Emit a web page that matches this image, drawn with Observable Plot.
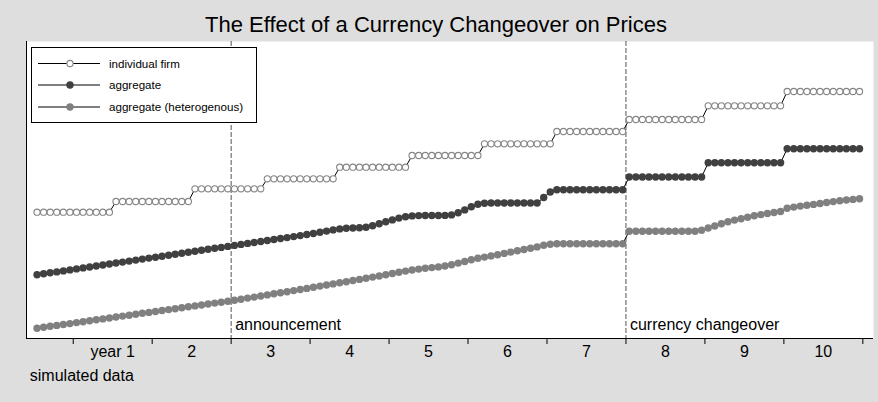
<!DOCTYPE html>
<html>
<head>
<meta charset="utf-8">
<script src="https://cdn.jsdelivr.net/npm/d3@7"></script>
<script src="https://cdn.jsdelivr.net/npm/@observablehq/plot@0.6"></script>
<style>
  html, body { margin: 0; padding: 0; background: #dedede; }
  #wrap { position: relative; width: 878px; height: 402px; overflow: hidden; background: #dedede;
          font-family: "Liberation Sans", Arial, sans-serif; }
  #wrap svg.legend { position: absolute; left: 31px; top: 47px; }
</style>
</head>
<body>
<div id="wrap"></div>
<script>
// ---------- data (monthly, simulated) ----------
const titleText = "The Effect of a Currency Changeover on Prices";
const captionText = "simulated data";
const seriesNames = ["individual firm", "aggregate", "aggregate (heterogenous)"];

const individualFirm = [
  12.63,12.63,12.63,12.63,12.63,12.63,12.63,12.63,12.63,12.63,12.63,12.63,
  13.70,13.70,13.70,13.70,13.70,13.70,13.70,13.70,13.70,13.70,13.70,13.70,
  14.97,14.97,14.97,14.97,14.97,14.97,14.97,14.97,14.97,14.97,14.97,
  15.97,15.97,15.97,15.97,15.97,15.97,15.97,15.97,15.97,15.97,15.97,
  17.13,17.13,17.13,17.13,17.13,17.13,17.13,17.13,17.13,17.13,17.13,
  18.30,18.30,18.30,18.30,18.30,18.30,18.30,18.30,18.30,18.30,18.30,
  19.47,19.47,19.47,19.47,19.47,19.47,19.47,19.47,19.47,19.47,19.47,
  20.70,20.70,20.70,20.70,20.70,20.70,20.70,20.70,20.70,20.70,20.70,
  21.90,21.90,21.90,21.90,21.90,21.90,21.90,21.90,21.90,21.90,21.90,21.90,
  23.27,23.27,23.27,23.27,23.27,23.27,23.27,23.27,23.27,23.27,23.27,23.27,
  24.70,24.70,24.70,24.70,24.70,24.70,24.70,24.70,24.70,24.70,24.70,24.70
];

const aggregate = [
  6.37,6.47,6.57,6.66,6.76,6.86,6.96,7.06,7.15,7.25,
  7.35,7.45,7.55,7.64,7.74,7.84,7.94,8.04,8.13,8.23,
  8.33,8.43,8.53,8.62,8.72,8.82,8.92,9.02,9.11,9.21,
  9.31,9.41,9.51,9.60,9.70,9.80,9.90,10.00,10.09,10.19,
  10.29,10.40,10.50,10.62,10.74,10.86,10.96,11.02,11.05,11.07,
  11.12,11.28,11.47,11.67,11.86,12.04,12.18,12.26,12.29,12.30,
  12.30,12.30,12.31,12.36,12.57,12.86,13.17,13.42,13.52,13.55,
  13.55,13.55,13.55,13.55,13.55,13.55,13.55,14.10,14.65,14.87,
  14.87,14.87,14.87,14.87,14.87,14.87,14.87,14.87,14.87,14.87,
  16.15,16.15,16.15,16.15,16.15,16.15,16.15,16.15,16.15,16.15,
  16.15,16.15,17.57,17.57,17.57,17.57,17.57,17.57,17.57,17.57,
  17.57,17.57,17.57,17.57,18.97,18.97,18.97,18.97,18.97,18.97,
  18.97,18.97,18.97,18.97,18.97,18.97
];

const aggregateHet = [
  1.03,1.12,1.22,1.31,1.40,1.49,1.59,1.68,1.77,1.87,
  1.96,2.05,2.15,2.24,2.33,2.42,2.52,2.61,2.70,2.80,
  2.89,2.98,3.08,3.17,3.26,3.35,3.45,3.54,3.63,3.73,
  3.82,3.93,4.04,4.14,4.25,4.36,4.47,4.58,4.68,4.79,
  4.90,5.01,5.12,5.24,5.35,5.46,5.57,5.68,5.80,5.91,
  6.02,6.14,6.25,6.38,6.50,6.62,6.74,6.85,6.94,7.02,
  7.09,7.16,7.25,7.38,7.54,7.70,7.87,8.02,8.14,8.26,
  8.38,8.51,8.64,8.77,8.90,9.03,9.16,9.32,9.43,9.47,
  9.47,9.47,9.47,9.47,9.47,9.47,9.47,9.47,9.47,9.47,
  10.73,10.73,10.73,10.73,10.73,10.73,10.73,10.73,10.73,10.73,
  10.73,10.82,11.05,11.25,11.47,11.67,11.84,11.98,12.13,12.27,
  12.39,12.50,12.60,12.70,13.02,13.14,13.24,13.32,13.41,13.50,
  13.60,13.69,13.78,13.85,13.91,13.97
];

const yearTicks = [5.5, 17.5, 29.5, 41.5, 53.5, 65.5, 77.5, 89.5, 101.5, 113.5, 125.5];
const yearLabelPos = [11.5, 23.5, 35.5, 47.5, 59.5, 71.5, 83.5, 95.5, 107.5, 119.5];
const yearLabels = ["year 1", "2", "3", "4", "5", "6", "7", "8", "9", "10"];
const events = [
  {month: 29.5, label: "announcement"},
  {month: 89.5, label: "currency changeover"}
];

const xDomain = [-1.6, 127.12];
const yDomain = [0, 29.7];

// ---------- styles ----------
const styles = [
  {fill: "white", stroke: "#858585", r: 3.1, strokeWidth: 1.1},
  {fill: "#404040", stroke: "none", r: 3.7, strokeWidth: 0},
  {fill: "#808080", stroke: "none", r: 3.7, strokeWidth: 0}
];

const months = d3.range(individualFirm.length);
const toRows = vals => months.map((m, i) => ({month: m, value: vals[i]}));
const seriesData = [individualFirm, aggregate, aggregateHet].map(toRows);

const seriesMarks = seriesData.flatMap((rows, k) => [
  Plot.line(rows, {x: "month", y: "value", stroke: "black", strokeWidth: 1}),
  Plot.dot(rows, {x: "month", y: "value", r: styles[k].r, fill: styles[k].fill,
                  stroke: styles[k].stroke, strokeWidth: styles[k].strokeWidth})
]);

const chart = Plot.plot({
  width: 878,
  height: 402,
  marginTop: 41,
  marginRight: 5,
  marginBottom: 64,
  marginLeft: 26,
  style: {background: "transparent", fontFamily: "'Liberation Sans', Arial, sans-serif",
          fontSize: "16px", color: "black", overflow: "visible"},
  x: {domain: xDomain, axis: null},
  y: {domain: yDomain, axis: null},
  marks: [
    Plot.frame({fill: "white", stroke: null}),
    Plot.ruleX(events, {x: "month", stroke: "#555", strokeWidth: 1, strokeDasharray: "5,2"}),
    Plot.text(events, {x: "month", text: "label", frameAnchor: "bottom", textAnchor: "start",
                       lineAnchor: "bottom", dx: 4, dy: -9, fontSize: 16, fill: "black"}),
    ...seriesMarks,
    Plot.ruleY([yDomain[0]], {stroke: "black", strokeWidth: 1}),
    Plot.ruleX([xDomain[0]], {stroke: "black", strokeWidth: 1}),
    Plot.axisX({ticks: yearTicks, tickSize: 6, tickFormat: () => "", label: null, stroke: "black"}),
    Plot.text(yearLabels, {x: (d, i) => yearLabelPos[i], text: d => d, frameAnchor: "bottom",
                           lineAnchor: "top", dy: 7, fontSize: 16, fill: "black"}),
    Plot.text([titleText], {text: d => d, frameAnchor: "top", lineAnchor: "bottom",
                            dx: -14, dy: -9.3, fontSize: 22, fill: "black"}),
    Plot.text([captionText], {text: d => d, frameAnchor: "bottom-left", textAnchor: "start",
                              lineAnchor: "bottom", dx: 3.3, dy: 42, fontSize: 16, fill: "black"})
  ]
});

const wrap = document.getElementById("wrap");
wrap.appendChild(chart);

// ---------- legend (overlay inside plot area) ----------
const lg = d3.select(wrap).append("svg")
  .attr("class", "legend")
  .attr("width", 227).attr("height", 77);
lg.append("rect").attr("x", 0.5).attr("y", 0.5).attr("width", 225).attr("height", 75)
  .attr("fill", "white").attr("stroke", "black").attr("stroke-width", 1);
const itemY = [16.5, 38, 60];
seriesNames.forEach((name, k) => {
  const g = lg.append("g").attr("transform", `translate(0,${itemY[k]})`);
  g.append("line").attr("x1", 7).attr("x2", 69).attr("y1", 0).attr("y2", 0)
    .attr("stroke", "black").attr("stroke-width", 1);
  g.append("circle").attr("cx", 39).attr("cy", 0).attr("r", styles[k].r)
    .attr("fill", styles[k].fill).attr("stroke", styles[k].stroke)
    .attr("stroke-width", styles[k].strokeWidth);
  g.append("text").attr("x", 78).attr("y", 0).attr("dy", "0.35em")
    .attr("font-family", "'Liberation Sans', Arial, sans-serif").attr("font-size", 11.6)
    .attr("fill", "black").text(name);
});
</script>
</body>
</html>
